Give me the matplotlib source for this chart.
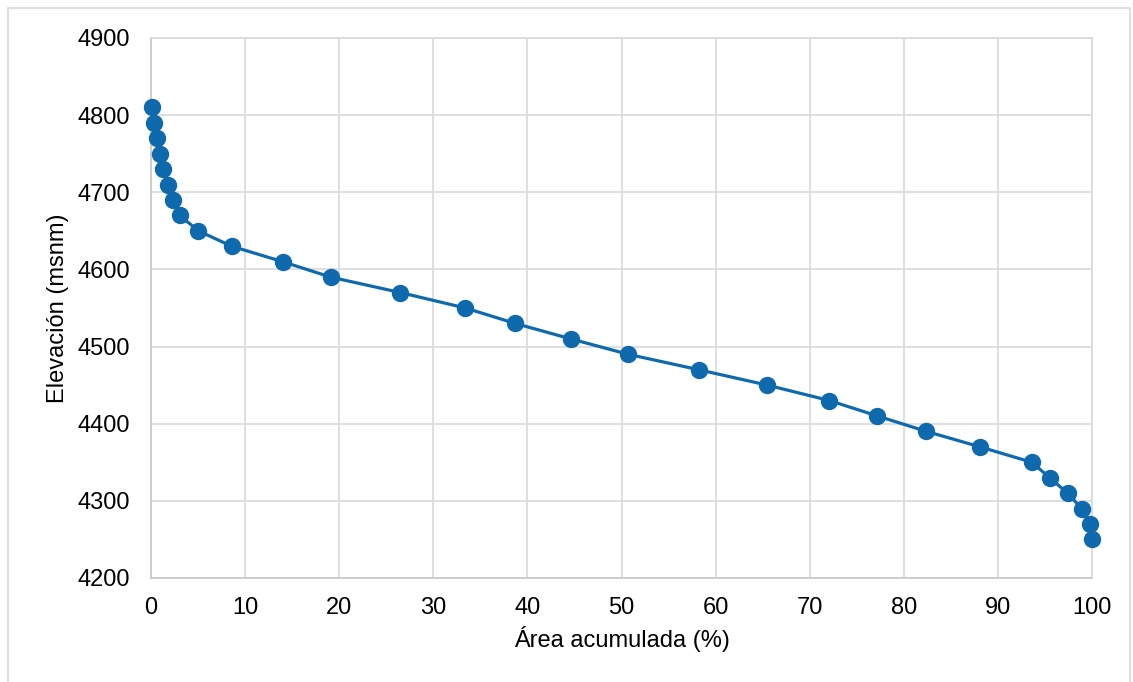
import numpy as np
import matplotlib.pyplot as plt
from matplotlib.patches import Rectangle

plt.rcParams['font.family'] = ['Liberation Sans', 'DejaVu Sans']

# curva hipsometrica
area = [0.07, 0.32, 0.6, 0.92, 1.24, 1.8, 2.3, 3.05, 5.03, 8.58, 14.0, 19.1,
        26.5, 33.4, 38.7, 44.6, 50.7, 58.2, 65.5, 72.1, 77.2, 82.4, 88.1,
        93.6, 95.5, 97.4, 98.9, 99.8, 100.0]
elev = [4810, 4790, 4770, 4750, 4730, 4710, 4690, 4670, 4650, 4630, 4610, 4590,
        4570, 4550, 4530, 4510, 4490, 4470, 4450, 4430, 4410, 4390, 4370,
        4350, 4330, 4310, 4290, 4270, 4250]

xticks = np.arange(0, 101, 10)
yticks = np.arange(4200, 4901, 100)

fig = plt.figure(figsize=(11.33, 6.82), dpi=100)
ax = fig.add_axes([0.1333, 0.1525, 0.8305, 0.7918])

# borde del grafico
fig.patches.append(Rectangle((0.007, -0.01), 0.99, 0.998, transform=fig.transFigure,
                             fill=False, edgecolor='#d9d9d9', linewidth=1.2))

ax.plot(area, elev, color='#0f69ad', linewidth=2.3, marker='o', markersize=11.5,
        zorder=3, clip_on=False)

ax.set_xlim(0, 100)
ax.set_ylim(4200, 4900)
ax.set_xticks(xticks)
ax.set_yticks(yticks)
ax.grid(True, color='#d9d9d9', linewidth=1.2)
ax.set_axisbelow(True)
for s in ax.spines.values():
    s.set_color('#c8c8c8')
    s.set_linewidth(1.2)
ax.spines['top'].set_color('#d9d9d9')
ax.spines['right'].set_color('#d9d9d9')
ax.tick_params(length=0, labelsize=17)
ax.tick_params(axis='x', pad=14)
ax.tick_params(axis='y', pad=15)

ax.set_xlabel('Área acumulada (%)', fontsize=17, labelpad=5)
ax.set_ylabel('Elevación (msnm)', fontsize=17, labelpad=6)

plt.savefig('out.png', dpi=100)
